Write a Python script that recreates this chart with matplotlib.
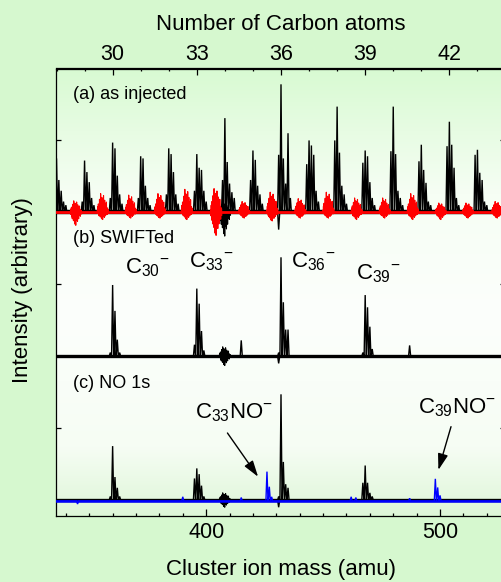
import numpy as np
import matplotlib
matplotlib.use("Agg")
import matplotlib.pyplot as plt
from matplotlib.ticker import FixedLocator, MultipleLocator, NullFormatter

plt.rcParams['font.family'] = ['Liberation Sans', 'DejaVu Sans']
plt.rcParams['mathtext.fontset'] = 'custom'
plt.rcParams['mathtext.rm'] = 'Liberation Sans'
plt.rcParams['mathtext.it'] = 'Liberation Sans:italic'
plt.rcParams['mathtext.bf'] = 'Liberation Sans:bold'

# ---------------------------------------------------------------- data
CARBON_MASS = 12
ISO_OFFSETS = [-1, 0, 1, 2, 3, 4]          # amu relative to 12n

# (a) as injected: cluster sizes and isotope-line heights
a_carbons = list(range(28, 44))
a_heights = [
    [0.20, 0.75, 0.45, 0.30, 0.15, 0.10],
    [0.15, 0.72, 0.56, 0.42, 0.20, 0.10],
    [0.20, 0.97, 0.89, 0.51, 0.25, 0.12],
    [0.20, 0.78, 0.75, 0.37, 0.20, 0.10],
    [0.25, 0.89, 0.81, 0.56, 0.25, 0.12],
    [0.30, 0.81, 0.62, 0.59, 0.30, 0.15],
    [0.45, 1.31, 0.70, 0.40, 0.28, 0.20],
    [0.45, 0.86, 0.73, 0.37, 0.25, 0.12],
    [0.80, 1.78, 0.75, 0.40, 1.10, 0.20],
    [0.67, 1.00, 0.93, 0.80, 0.30, 0.15],
    [1.00, 1.47, 0.83, 0.37, 0.25, 0.12],
    [0.69, 0.86, 0.78, 0.42, 0.20, 0.10],
    [0.85, 1.47, 0.81, 0.30, 0.20, 0.10],
    [0.71, 0.94, 0.59, 0.41, 0.15, 0.10],
    [0.92, 1.26, 0.94, 0.62, 0.20, 0.10],
    [0.80, 0.87, 0.55, 0.45, 0.15, 0.10],
]
# excitation-noise bursts: centre (amu), upward / downward excursion
a_red_centers = [344.3, 355.8, 367.8, 380.3, 391.8, 404.3, 416.3, 428.3,
                 440.3, 452.3, 464.4, 476.4, 488.4, 500.4, 512.0, 524.5]
a_red_up = [0.16, 0.26, 0.24, 0.26, 0.32, 0.33, 0.15, 0.28,
            0.19, 0.28, 0.20, 0.20, 0.26, 0.13, 0.13, 0.15]
a_red_down = [0.18, 0.10, 0.08, 0.08, 0.10, 0.32, 0.08, 0.12,
              0.08, 0.08, 0.10, 0.08, 0.10, 0.10, 0.08, 0.08]
a_black_burst = (408.0, 0.15, 0.33)
a_dip = (431.0, -0.24)

# (b) SWIFTed
b_carbons = [30, 33, 36, 39]
b_heights = [
    [0.05, 0.99, 0.63, 0.23, 0.05, 0.0],
    [0.16, 0.94, 0.73, 0.35, 0.08, 0.0],
    [0.05, 1.375, 0.75, 0.37, 0.37, 0.0],
    [0.05, 0.85, 0.68, 0.41, 0.10, 0.0],
]
b_extra_mass = [415.0, 487.0, 431.0]
b_extra_height = [0.22, 0.15, -0.10]
b_burst = (408.0, 0.13, 0.13)

# (c) NO 1s
c_carbons = [30, 33, 36, 39]
c_heights = [
    [0.05, 0.75, 0.32, 0.17, 0.05, 0.0],
    [0.30, 0.44, 0.36, 0.20, 0.05, 0.0],
    [0.05, 1.47, 0.53, 0.22, 0.17, 0.0],
    [0.24, 0.48, 0.24, 0.10, 0.05, 0.0],
]
c_extra_mass = [431.0]
c_extra_height = [-0.10]
c_burst = (408.0, 0.10, 0.10)
# NO adduct lines (blue): C33NO- = 426 amu, C39NO- = 498 amu
c_no_mass = [426, 427, 428, 498, 499, 500, 390, 415, 462, 464, 487, 345]
c_no_height = [0.41, 0.20, 0.06, 0.31, 0.19, 0.08, 0.06, 0.05, 0.06, 0.05, 0.04, -0.04]

# vertical offset of each trace
OFFSET_A, OFFSET_B, OFFSET_C = 4.0, 2.0, 0.0

# oscillation profile of one noise burst (normalised)
BURST_SHAPE = [0.10, -0.15, 0.30, -0.10, 0.45, -0.35, 0.25, -0.50, 0.70, -0.30,
               0.55, -0.65, 1.00, -0.45, 0.60, -0.90, 0.80, -0.55, 0.40, -1.00,
               0.75, -0.40, 0.90, -0.60, 0.50, -0.70, 0.65, -0.35, 0.45, -0.50,
               0.30, -0.25, 0.55, -0.20, 0.25, -0.30, 0.20, -0.10, 0.15, -0.12]
BURST_WIDTH = 4.8
PEAK_HALF_WIDTH = 0.45

XMIN, XMAX = 336, 528
YMIN, YMAX = -0.215, 6.0

# ---------------------------------------------------------------- figure
fig = plt.figure(figsize=(5.02, 5.82), dpi=100)
fig.patch.set_facecolor('#d6f8cf')

ax = fig.add_axes([56.5 / 502, 66.5 / 582, 449 / 502, 447 / 582])
ax.set_facecolor('none')
ax.set_xlim(XMIN, XMAX)
ax.set_ylim(YMIN, YMAX)

# soft vertical gradient behind the spectra
stops_pos = np.array([0.0, 0.28, 0.55, 0.85, 1.0])
stops_col = np.array([[216, 250, 210], [246, 254, 244], [252, 255, 252],
                      [246, 253, 244], [222, 246, 216]]) / 255.0
t = np.linspace(0, 1, 256)
grad = np.stack([np.interp(t, stops_pos, stops_col[:, k]) for k in range(3)], axis=1)
ax.imshow(grad[:, None, :], extent=(XMIN, XMAX, YMIN, YMAX), aspect='auto',
          zorder=0, interpolation='bilinear')


def spectrum(masses, heights, base, color, lw=1.0, z=2):
    """Stick list -> continuous trace with narrow triangular lines."""
    order = np.argsort(masses)
    xs, ys = [XMIN], [base]
    for i in order:
        m, h = masses[i], heights[i]
        xs += [m - PEAK_HALF_WIDTH, m, m + PEAK_HALF_WIDTH]
        ys += [base, base + h, base]
    xs.append(XMAX)
    ys.append(base)
    ax.plot(xs, ys, color=color, lw=lw, zorder=z, solid_joinstyle='miter')


def cluster_sticks(carbons, heights):
    masses, tops = [], []
    for n, hs in zip(carbons, heights):
        for off, h in zip(ISO_OFFSETS, hs):
            if h != 0:
                masses.append(CARBON_MASS * n + off)
                tops.append(h)
    return masses, tops


def burst(center, up, down, base, color, lw=0.8, z=2):
    shape = np.array(BURST_SHAPE)
    xs = center + np.linspace(-BURST_WIDTH / 2, BURST_WIDTH / 2, len(shape))
    ys = base + np.where(shape > 0, shape * up, shape * down)
    ax.plot(xs, ys, color=color, lw=lw, zorder=z)


# (a)
ax.plot([XMIN, XMAX], [OFFSET_A, OFFSET_A], color='black', lw=3.2, zorder=2)
m, h = cluster_sticks(a_carbons, a_heights)
spectrum(m + [a_dip[0]], h + [a_dip[1]], OFFSET_A, 'black')
burst(*a_black_burst, OFFSET_A, 'black')
ax.plot([XMIN, XMAX], [OFFSET_A, OFFSET_A], color='#ff0000', lw=2.0, zorder=3)
for cx, up, dn in zip(a_red_centers, a_red_up, a_red_down):
    burst(cx, up, dn, OFFSET_A, '#ff0000', z=3)

# (b)
ax.plot([XMIN, XMAX], [OFFSET_B, OFFSET_B], color='black', lw=2.4, zorder=2)
m, h = cluster_sticks(b_carbons, b_heights)
spectrum(m + b_extra_mass, h + b_extra_height, OFFSET_B, 'black')
burst(*b_burst, OFFSET_B, 'black')

# (c)
ax.plot([XMIN, XMAX], [OFFSET_C, OFFSET_C], color='black', lw=2.4, zorder=2)
m, h = cluster_sticks(c_carbons, c_heights)
spectrum(m + c_extra_mass, h + c_extra_height, OFFSET_C, 'black')
burst(*c_burst, OFFSET_C, 'black')
ax.plot([XMIN, XMAX], [OFFSET_C - 0.015, OFFSET_C - 0.015], color='#0000ff', lw=1.8, zorder=3)
spectrum(c_no_mass, c_no_height, OFFSET_C - 0.015, '#0000ff', z=3)

# ---------------------------------------------------------------- labels
fs_panel = 13
ax.text(343.1, 5.645, '(a) as injected', fontsize=fs_panel, va='center', zorder=5)
ax.text(343.1, 3.64, '(b) SWIFTed', fontsize=fs_panel, va='center', zorder=5)
ax.text(343.1, 1.627, '(c) NO 1s', fontsize=fs_panel, va='center', zorder=5)

fs_ion = 16
ion_labels = [
    (365.3, 3.152, r'C$_{30}$$^{-}$'),
    (392.7, 3.24, r'C$_{33}$$^{-}$'),
    (436.2, 3.24, r'C$_{36}$$^{-}$'),
    (464.1, 3.07, r'C$_{39}$$^{-}$'),
    (395.2, 1.136, r'C$_{33}$NO$^{-}$'),
    (490.7, 1.206, r'C$_{39}$NO$^{-}$'),
]
for x, y, s in ion_labels:
    ax.text(x, y, s, fontsize=fs_ion, ha='left', va='baseline', zorder=5)

arrow_kw = dict(arrowstyle='-|>,head_length=0.7,head_width=0.22', color='black',
                lw=1.0, mutation_scale=14, shrinkA=0, shrinkB=0)
ax.annotate('', xy=(422.2, 0.324), xytext=(409.1, 0.932), arrowprops=arrow_kw, zorder=5)
ax.annotate('', xy=(499.3, 0.418), xytext=(504.7, 1.02), arrowprops=arrow_kw, zorder=5)

# ---------------------------------------------------------------- axes
for sp in ax.spines.values():
    sp.set_linewidth(0.9)

ax.xaxis.set_major_locator(FixedLocator([400, 500]))
ax.xaxis.set_minor_locator(MultipleLocator(10))
ax.yaxis.set_major_locator(FixedLocator([1, 3, 5]))
ax.yaxis.set_major_formatter(NullFormatter())
ax.tick_params(axis='x', which='both', direction='in', top=False, labelsize=15.5, pad=4.5)
ax.tick_params(axis='x', which='major', length=5, width=0.9)
ax.tick_params(axis='x', which='minor', length=2.5, width=0.9)
ax.tick_params(axis='y', which='major', direction='in', right=True, length=3.5, width=0.9)
ax.set_xlabel('Cluster ion mass (amu)', fontsize=16, labelpad=11.5)

sec = ax.secondary_xaxis('top', functions=(lambda m: m / CARBON_MASS,
                                            lambda n: n * CARBON_MASS))
sec.xaxis.set_major_locator(FixedLocator([30, 33, 36, 39, 42]))
sec.xaxis.set_minor_locator(MultipleLocator(1))
sec.tick_params(axis='x', which='both', direction='in', labelsize=15.5, pad=2.5)
sec.tick_params(axis='x', which='major', length=5, width=0.9)
sec.tick_params(axis='x', which='minor', length=2.5, width=0.9)
sec.spines['top'].set_linewidth(0.9)
sec.set_xlabel('Number of Carbon atoms', fontsize=16, labelpad=10)

fig.text(0.044, 0.502, 'Intensity (arbitrary)', rotation=90, fontsize=16,
         ha='center', va='center')

fig.savefig('out.png', dpi=100, facecolor=fig.get_facecolor())
